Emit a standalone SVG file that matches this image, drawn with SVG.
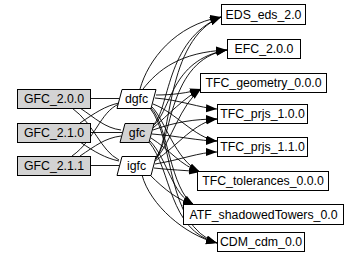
<svg xmlns="http://www.w3.org/2000/svg" width="359" height="264" viewBox="0 0 359 264">
<style>
.n{fill:#fff;stroke:#000;stroke-width:1}
.g{fill:#d3d3d3;stroke:#000;stroke-width:1}
text{font-family:"Liberation Sans",Arial,sans-serif;font-size:12.3px;fill:#000;text-anchor:middle}
.e path{fill:none;stroke:#000;stroke-width:0.9}
.a path{marker-end:url(#ah)}
</style>
<defs>
<marker id="ah" markerUnits="userSpaceOnUse" markerWidth="12" markerHeight="9" refX="11" refY="4" orient="auto">
<path d="M0,0 L11,4 L0,8 z" fill="#000"/>
</marker>
</defs>
<rect width="359" height="264" fill="#fff"/>
<g id="connectors" class="e">
<g>
<path d="M90,98.5 L119,98.5"/>
<path d="M90,132.5 L122,132.5"/>
<path d="M90,165.5 L119,165.5"/>
<path d="M80,108 C95,118 105,128 121,130"/>
<path d="M72,108 C95,125 100,150 119,160"/>
<path d="M80,123 C95,113 105,106 119,103"/>
<path d="M80,142 C95,152 105,158 119,161"/>
<path d="M72,156 C95,140 100,112 119,104"/>
<path d="M80,156 C95,146 105,138 121,136"/>
</g>
<g class="a">
<path d="M140,89 C148,60 175,25 221,17"/>
<path d="M143,89 C158,70 180,52 227,50"/>
<path d="M156,95 C172,95 188,93 201,89"/>
<path d="M155,98 C180,100 200,108 217,109"/>
<path d="M153,104 C175,112 195,138 217,141"/>
<path d="M152,107 C165,120 175,160 200,172"/>
<path d="M151,108 C168,125 170,190 194,205"/>
<path d="M150,108 C175,140 165,225 217,243"/>
<path d="M153,125 C170,110 165,40 221,17"/>
<path d="M153,126 C172,110 170,60 227,50"/>
<path d="M153,128 C168,115 185,97 201,89"/>
<path d="M153,130 C175,122 195,119 217,119"/>
<path d="M152,134 C178,136 200,141 217,141"/>
<path d="M151,138 C170,150 180,165 200,172"/>
<path d="M150,141 C168,160 172,195 194,205"/>
<path d="M149,142 C172,170 168,230 217,243"/>
<path d="M156,157 C172,140 165,40 221,17"/>
<path d="M156,158 C172,140 168,60 227,50"/>
<path d="M156,159 C172,140 180,105 201,89"/>
<path d="M155,161 C178,145 195,122 217,119"/>
<path d="M155,164 C180,160 200,152 217,152"/>
<path d="M154,168 C170,170 185,170 200,172"/>
<path d="M150,175 C165,190 178,200 194,205"/>
<path d="M142,175 C150,205 185,235 217,243"/>
</g>
</g>
<g id="GFC_2.0.0"><rect class="g" x="17.5" y="89.5" width="73" height="19"/><text x="54" y="103.3">GFC_2.0.0</text></g>
<g id="GFC_2.1.0"><rect class="g" x="17.5" y="123.5" width="73" height="19"/><text x="54" y="137.3">GFC_2.1.0</text></g>
<g id="GFC_2.1.1"><rect class="g" x="17.5" y="156.5" width="73" height="19"/><text x="54" y="170.3">GFC_2.1.1</text></g>
<g id="dgfc"><polygon class="n" points="122,89.5 156,89.5 151,108.5 117,108.5"/><text x="136.5" y="103.3">dgfc</text></g>
<g id="gfc"><polygon class="g" points="125,123.5 154,123.5 149,142.5 120,142.5"/><text x="137" y="137.3">gfc</text></g>
<g id="igfc"><polygon class="n" points="122,156.5 156,156.5 151,175.5 117,175.5"/><text x="136.5" y="170.3">igfc</text></g>
<g id="EDS_eds_2.0"><rect class="n" x="221.5" y="4.5" width="84" height="20"/><text x="263.5" y="18.8">EDS_eds_2.0</text></g>
<g id="EFC_2.0.0"><rect class="n" x="227.5" y="39.5" width="73" height="19"/><text x="264" y="53.3">EFC_2.0.0</text></g>
<g id="TFC_geometry_0.0.0"><rect class="n" x="200.5" y="73.5" width="126" height="19"/><text x="263.5" y="87.3">TFC_geometry_0.0.0</text></g>
<g id="TFC_prjs_1.0.0"><rect class="n" x="217.5" y="104.5" width="90" height="19"/><text x="262.5" y="118.3">TFC_prjs_1.0.0</text></g>
<g id="TFC_prjs_1.1.0"><rect class="n" x="217.5" y="137.5" width="90" height="19"/><text x="262.5" y="151.3">TFC_prjs_1.1.0</text></g>
<g id="TFC_tolerances_0.0.0"><rect class="n" x="197.5" y="171.5" width="131" height="19"/><text x="263" y="185.3">TFC_tolerances_0.0.0</text></g>
<g id="ATF_shadowedTowers_0.0"><rect class="n" x="183.5" y="204.5" width="160" height="20"/><text x="263.5" y="218.8">ATF_shadowedTowers_0.0</text></g>
<g id="CDM_cdm_0.0"><rect class="n" x="217.5" y="232.5" width="87" height="19"/><text x="261" y="246.3">CDM_cdm_0.0</text></g>
</svg>
